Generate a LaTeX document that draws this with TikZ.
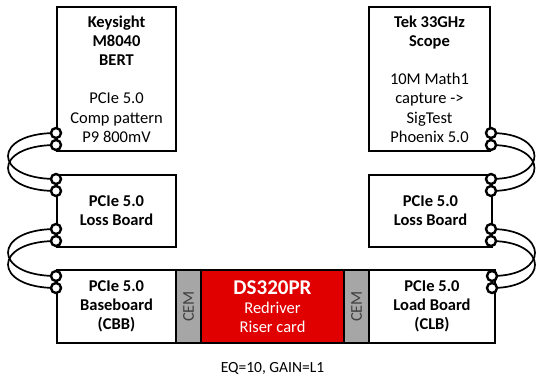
\documentclass[tikz,border=0pt]{standalone}
\usepackage{fontspec}
\setmainfont{Carlito}
\usetikzlibrary{calc}
\definecolor{cemgray}{RGB}{166,166,166}
\definecolor{riserred}{RGB}{224,0,0}
\tikzset{
  box/.style={draw, line width=2.2pt, fill=white, align=center, inner sep=0pt,
    font=\fontsize{16.5}{19.2}\selectfont},
  cembox/.style={draw, line width=2.2pt, fill=cemgray, inner sep=0pt,
    text=black!75, font=\fontsize{16.5}{18}\selectfont},
  redbox/.style={draw, line width=2.2pt, fill=riserred, align=center, inner sep=0pt,
    text=white, font=\fontsize{16.5}{19.2}\selectfont},
  port/.style={circle, draw, fill=white, line width=2.4pt, minimum size=10pt, inner sep=0pt},
  cable/.style={line width=1.7pt},
}
\begin{document}
\begin{tikzpicture}[x=1pt,y=-1pt]
\useasboundingbox (0,0) rectangle (538,375);
% boxes
\node[box, minimum width=119pt, minimum height=144pt] (bert) at (116.5,79)
  {\textbf{Keysight}\\\textbf{M8040}\\\textbf{BERT}\\\mbox{}\\PCIe 5.0\\Comp pattern\\P9 800mV};
\node[box, minimum width=121pt, minimum height=144pt] (scope) at (429.5,79)
  {\textbf{Tek 33GHz}\\\textbf{Scope}\\\mbox{}\\10M Math1\\capture ->\\SigTest\\Phoenix 5.0};
\node[box, minimum width=119pt, minimum height=72pt] (lossl) at (116.5,211)
  {\textbf{PCIe 5.0}\\\textbf{Loss Board}};
\node[box, minimum width=123pt, minimum height=72pt] (lossr) at (430.5,211)
  {\textbf{PCIe 5.0}\\\textbf{Loss Board}};
\node[box, minimum width=119pt, minimum height=73pt] (cbb) at (116.5,306.5)
  {\textbf{PCIe 5.0}\\\textbf{Baseboard}\\\textbf{(CBB)}};
\node[cembox, minimum width=25pt, minimum height=73pt] (cem1) at (188.5,306.5)
  {\rotatebox{90}{CEM}};
\node[redbox, minimum width=143pt, minimum height=73pt] (riser) at (272.5,306.5)
  {{\fontsize{21}{22}\selectfont\textbf{DS320PR}}\\Redriver\\Riser card};
\node[cembox, minimum width=25pt, minimum height=73pt] (cem2) at (356.5,306.5)
  {\rotatebox{90}{CEM}};
\node[box, minimum width=126pt, minimum height=73pt] (clb) at (432,306.5)
  {\textbf{PCIe 5.0}\\\textbf{Load Board}\\\textbf{(CLB)}};
\node[font=\fontsize{15.5}{18}\selectfont] (eq) at (272.5,368) {EQ=10, GAIN=L1};
% port positions
\coordinate (l1) at (56,133);  \coordinate (l2) at (56,145);
\coordinate (l3) at (56,179);  \coordinate (l4) at (56,191);
\coordinate (l5) at (56,229);  \coordinate (l6) at (56,241);
\coordinate (l7) at (56,276);  \coordinate (l8) at (56,288);
\coordinate (r1) at (491,133); \coordinate (r2) at (491,145);
\coordinate (r3) at (491,179); \coordinate (r4) at (491,191);
\coordinate (r5) at (491,229); \coordinate (r6) at (491,241);
\coordinate (r7) at (492,276); \coordinate (r8) at (492,288);
% cables
\draw[cable] (l1) .. controls ($(l1)+(-64,0)$) and ($(l3)+(-64,0)$) .. (l3);
\draw[cable] (l2) .. controls ($(l2)+(-64,0)$) and ($(l4)+(-64,0)$) .. (l4);
\draw[cable] (l5) .. controls ($(l5)+(-64,0)$) and ($(l7)+(-64,0)$) .. (l7);
\draw[cable] (l6) .. controls ($(l6)+(-64,0)$) and ($(l8)+(-64,0)$) .. (l8);
\draw[cable] (r1) .. controls ($(r1)+(58,0)$) and ($(r3)+(58,0)$) .. (r3);
\draw[cable] (r2) .. controls ($(r2)+(58,0)$) and ($(r4)+(58,0)$) .. (r4);
\draw[cable] (r5) .. controls ($(r5)+(58,0)$) and ($(r7)+(58,0)$) .. (r7);
\draw[cable] (r6) .. controls ($(r6)+(58,0)$) and ($(r8)+(58,0)$) .. (r8);
% ports
\foreach \p in {l1,l2,l3,l4,l5,l6,l7,l8,r1,r2,r3,r4,r5,r6,r7,r8}
  \node[port] (p\p) at (\p) {};
\end{tikzpicture}
\end{document}
